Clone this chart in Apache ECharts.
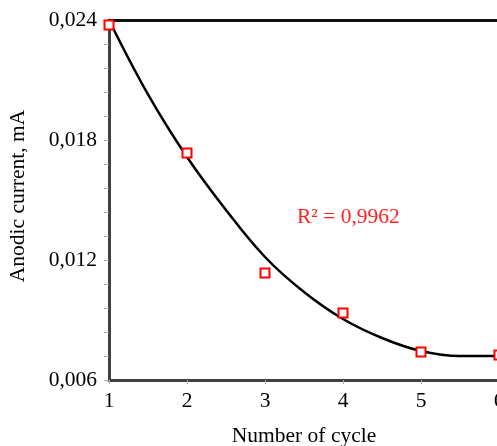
<!DOCTYPE html>
<html>
<head>
<meta charset="utf-8">
<script src="https://cdn.jsdelivr.net/npm/echarts@6/dist/echarts.min.js"></script>
<style>html,body{margin:0;padding:0;background:#fff;}#c{width:497px;height:446px;}</style>
</head>
<body>
<div id="c"></div>
<script>
// Measured data points
var cycles = [1, 2, 3, 4, 5, 6];
var current = [0.02375, 0.01735, 0.01135, 0.00935, 0.0074, 0.00725];
// Trend curve
var trendX = [1, 1.5, 2, 2.5, 3, 3.5, 4, 4.5, 5, 5.5, 6];
var trendY = [0.0240, 0.02028, 0.01715, 0.0145, 0.01215, 0.0104, 0.00905, 0.0081, 0.00745, 0.0072, 0.0072];
var yTicks = [0.006, 0.012, 0.018, 0.024];
var r2Label = 'R² = 0,9962';

var font = 'Liberation Serif';
var fs = 21.5;
var chart = echarts.init(document.getElementById('c'));
chart.setOption({
  animation: false,
  backgroundColor: '#fff',
  grid: {left: 109, top: 20, width: 390, height: 360, containLabel: false, outerBoundsMode: 'none'},
  xAxis: [{
    type: 'value', min: cycles[0], max: cycles[cycles.length - 1], interval: 1,
    name: 'Number of cycle', nameLocation: 'middle', nameGap: 45,
    nameTextStyle: {fontFamily: font, fontSize: fs, color: '#000'},
    axisLine: {show: true, onZero: false, lineStyle: {color: '#404040', width: 3}},
    axisTick: {show: true, length: 4, lineStyle: {color: '#aaa', width: 1}},
    axisLabel: {fontFamily: font, fontSize: fs, color: '#000', margin: 10},
    splitLine: {show: false}
  }, {
    type: 'value', position: 'top', min: 1, max: 6,
    axisLine: {show: true, onZero: false, lineStyle: {color: '#111', width: 3}},
    axisTick: {show: false}, axisLabel: {show: false}, splitLine: {show: false}
  }],
  yAxis: {
    type: 'value', min: yTicks[0], max: yTicks[yTicks.length - 1], interval: 0.006,
    name: 'Anodic current, mA', nameLocation: 'middle', nameGap: 80, nameRotate: 90,
    nameTextStyle: {fontFamily: font, fontSize: fs, color: '#000', padding: [0, 0, 0, 8]},
    axisLine: {show: true, onZero: false, lineStyle: {color: '#404040', width: 3}},
    axisTick: {show: true, length: 5, lineStyle: {color: '#aaa', width: 1}},
    minorTick: {show: true, splitNumber: 5, length: 5, lineStyle: {color: '#aaa', width: 1}},
    axisLabel: {fontFamily: font, fontSize: fs, color: '#000', margin: 12,
      formatter: function (v) { return v.toFixed(3).replace('.', ','); }},
    splitLine: {show: false}
  },
  series: [{
    type: 'line', smooth: 0.4, showSymbol: false, z: 2,
    data: trendX.map(function (x, i) { return [x, trendY[i]]; }),
    lineStyle: {color: '#000', width: 2.5}
  }, {
    type: 'scatter', z: 5, symbol: 'rect', symbolSize: 9,
    data: cycles.map(function (x, i) { return [x, current[i]]; }),
    itemStyle: {color: '#fff', borderColor: '#ff0000', borderWidth: 2, opacity: 1}
  }],
  graphic: [{
    type: 'text', left: 297, top: 206,
    style: {text: r2Label, fill: '#ff2020', font: fs + 'px "Liberation Serif"'}
  }]
});
</script>
</body>
</html>
